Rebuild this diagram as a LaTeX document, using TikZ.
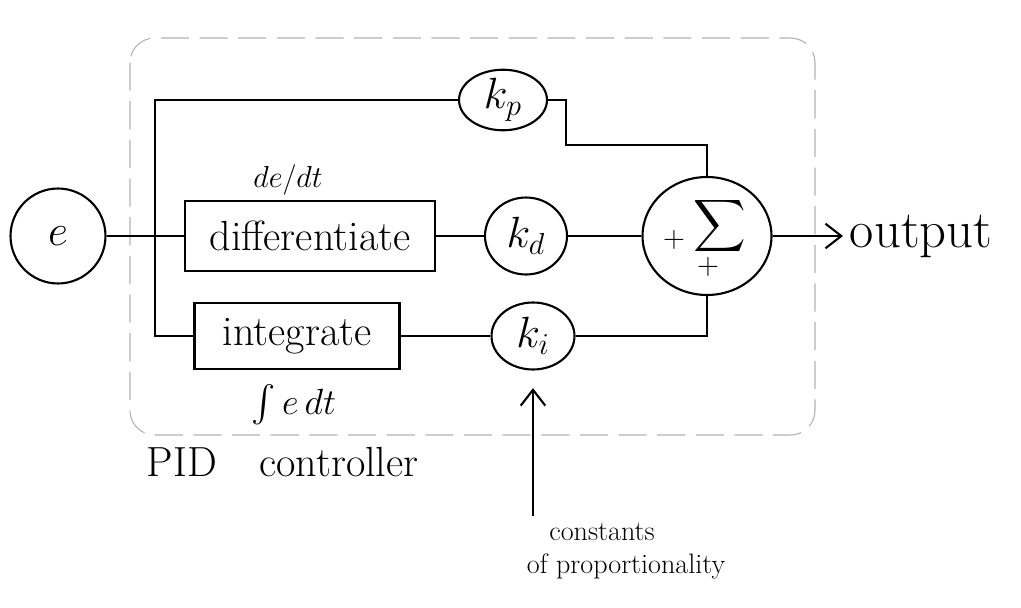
\documentclass[tikz,border=0pt]{standalone}
\usepackage{amsmath}
\usepackage{fontspec}
\usepackage{tikz}
\usetikzlibrary{arrows.meta,calc,positioning,shapes.geometric}
\tikzset{%
  arrow/.style={very thick,-{Straight Barb[length=9pt,width=14pt]}},
  block/.style={rectangle,draw,very thick,inner sep=0pt},
  gain/.style={ellipse,draw,very thick,inner sep=0pt},
  frame/.style={draw=gray!60,line width=0.6pt,dash pattern=on 16pt off 6pt,rounded corners=14pt},
  hand/.style={font=\fontsize{24}{28}\selectfont},
  small/.style={font=\fontsize{16}{19}\selectfont},
}

\begin{document}
\begin{tikzpicture}[x=0.02cm,y=-0.02cm,very thick]
  \useasboundingbox (0,0) rectangle (1021,608);
  % controller frame
  \draw[frame] (130,38) rectangle (815,435);

  \node[gain,hand,minimum width=1.9cm,minimum height=1.9cm] (e) at (58,236) {$e$};
  \node[block,hand,minimum width=5cm,minimum height=1.4cm] (diff) at (310,236) {differentiate};
  \node[block,hand,minimum width=4.1cm,minimum height=1.32cm] (int) at (297,336) {integrate};
  \node[gain,hand,minimum width=1.76cm,minimum height=1.12cm] (kp) at (503,100) {$k_p$};
  \node[gain,hand,minimum width=1.64cm,minimum height=1.54cm] (kd) at (526,236) {$k_d$};
  \node[gain,hand,minimum width=1.66cm,minimum height=1.34cm] (ki) at (533,336) {$k_i$};
  \node[gain,minimum width=2.58cm,minimum height=2.36cm] (sum) at (707,236) {};
  \node[font=\fontsize{20}{24}\selectfont] (sigma) at (720,226) {$\displaystyle\sum$};
  \node[small,inner sep=1pt] (plusl) at (674,240) {$+$};
  \node[small,inner sep=1pt] (plusb) at (708,267) {$+$};

  \node[small] (ddt) at (288,180) {$de/dt$};
  \node[font=\fontsize{20}{24}\selectfont,inner sep=1pt] (intlab) at (294,405) {$\int e\,dt$};
  \node[font=\fontsize{30}{36}\selectfont,anchor=west] (out) at (843,236) {output};
  \node[hand,anchor=west] (pid) at (140,462) {PID\quad controller};
  \node[small,anchor=north west,align=left] (const) at (520,516) {\hspace{0.8em}constants\\of proportionality};

  \coordinate (split) at (155,236);
  \draw (e) -- (diff);
  \draw (split) |- (kp);
  \draw (split) |- (int);
  \draw (diff) -- (kd);
  \draw (int) -- (ki);
  \draw (kd) -- (sum);
  \draw (kp.east) -| ++(18,45) -| (sum.north);
  \draw (ki.east) -| (sum.south);
  \draw[arrow] (sum.east) -- (out.west);
  \draw[arrow,shorten >=10pt] (const.north -| ki.south) -- (ki.south);
\end{tikzpicture}
\end{document}
